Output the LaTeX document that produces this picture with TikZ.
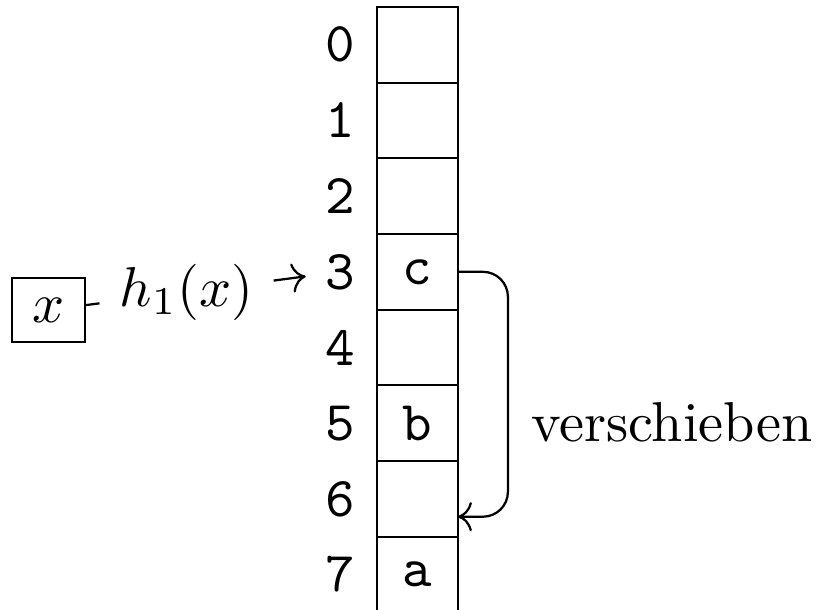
\documentclass[tikz,border=0pt]{standalone}
\usepackage{amsmath}
\usetikzlibrary{arrows.meta, positioning, calc}

\begin{document}
\begin{tikzpicture}[
  node distance=0pt,
  cell/.style={draw, outer sep=0pt, minimum width=0.506cm, minimum height=0.473cm, inner sep=0pt, font=\ttfamily},
  idx/.style={font=\ttfamily},
  keybox/.style={draw, minimum width=0.456cm, minimum height=0.40cm, inner sep=0pt},
  arrow/.style={->}
]
\clip (0,0) rectangle (5.1375,3.8125);

\node[cell] at (2.609,3.5325) (c0) {};
\node[cell, below=of c0] (c1) {};
\node[cell, below=of c1] (c2) {};
\node[cell, below=of c2] (c3) {c};
\node[cell, below=of c3] (c4) {};
\node[cell, below=of c4] (c5) {b};
\node[cell, below=of c5] (c6) {};
\node[cell, below=of c6] (c7) {a};

\node[idx, left=0.0125cm of c0] (n0) {0};
\node[idx, left=0.0125cm of c1] (n1) {1};
\node[idx, left=0.0125cm of c2] (n2) {2};
\node[idx, left=0.0125cm of c3] (n3) {3};
\node[idx, left=0.0125cm of c4] (n4) {4};
\node[idx, left=0.0125cm of c5] (n5) {5};
\node[idx, left=0.0125cm of c6] (n6) {6};
\node[idx, left=0.0125cm of c7] (n7) {7};

\node[keybox] at (0.303,1.875) (key) {$x$};
\node[inner sep=0.12cm] at (1.166,1.9875) (hash) {$h_1(x)$};

\draw (key) -- (hash);
\draw[arrow] (hash) -- (n3);

\coordinate (c6in) at ($(c6.south east)+(0,0.125)$);
\draw[arrow, rounded corners=0.156cm] (c3.east) -- ++(0.3125,0) |- (c6in);
\node[anchor=base west, inner sep=0pt] at (3.3125,1.05) (shift) {verschieben};
\end{tikzpicture}
\end{document}
